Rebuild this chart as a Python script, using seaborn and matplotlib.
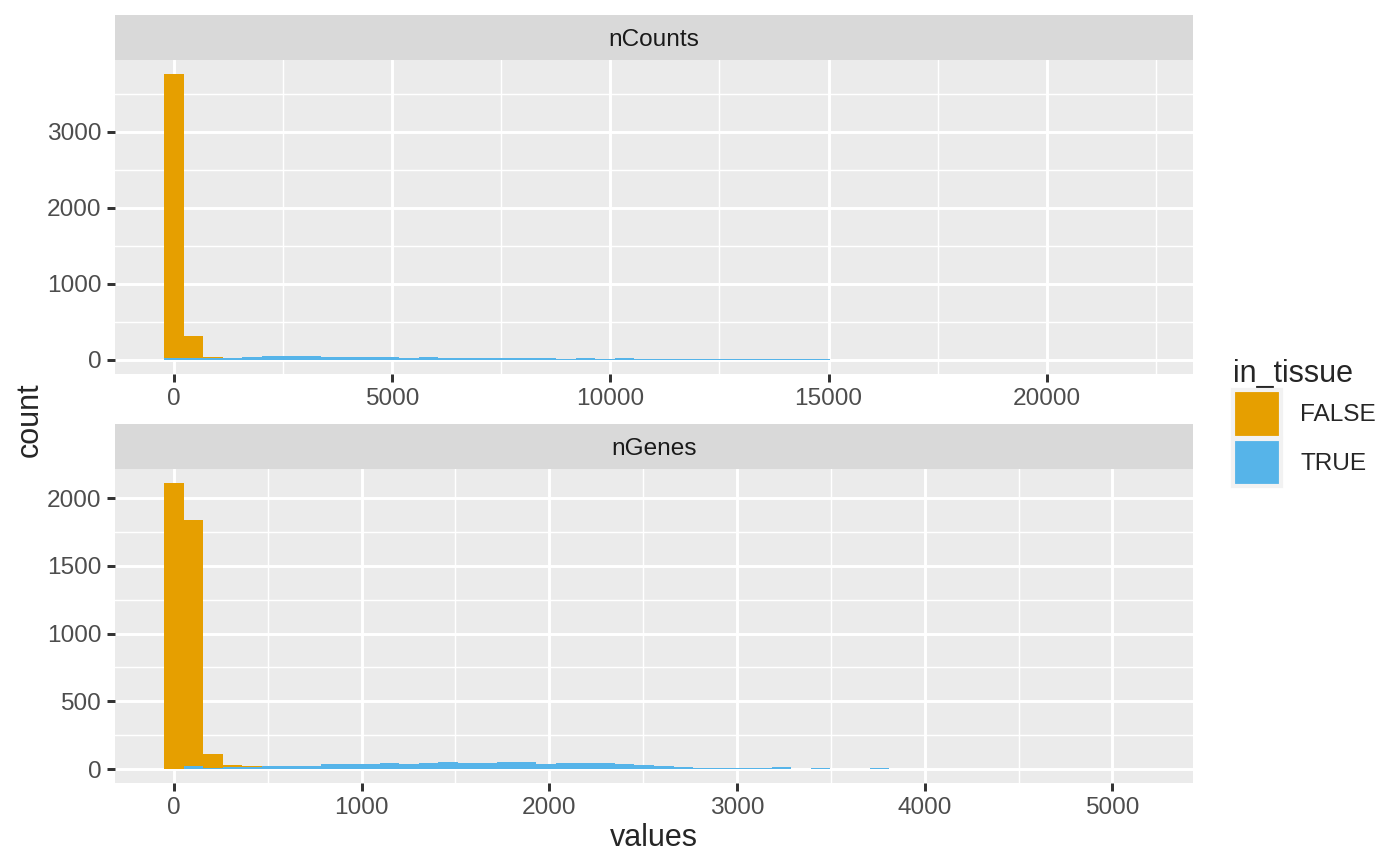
import numpy as np
import pandas as pd
import matplotlib
matplotlib.use("Agg")
import matplotlib.pyplot as plt
from matplotlib.patches import Patch
from matplotlib.ticker import MultipleLocator
import seaborn as sns

# histogram counts (50 bins per facet)
ncounts_binwidth = 449.0
ngenes_binwidth = 104.4

ncounts_false = [3733, 286, 13, 0, 0, 0, 0, 0, 0, 0,
                 0, 0, 0, 0, 0, 0, 0, 0, 0, 0,
                 0, 0, 0, 0, 0, 0, 0, 0, 0, 0,
                 0, 0, 0, 0, 0, 0, 0, 0, 0, 0,
                 0, 0, 0, 0, 0, 0, 0, 0, 0, 0]
ncounts_true = [30, 30, 30, 22, 40, 57, 57, 57, 42, 42,
                42, 40, 26, 40, 26, 26, 26, 26, 26, 26,
                13, 26, 13, 26, 11, 11, 11, 11, 11, 11,
                11, 11, 11, 11, 0, 0, 0, 0, 0, 0,
                0, 0, 0, 0, 0, 0, 0, 0, 0, 1]

ngenes_false = [2111, 1816, 102, 15, 7, 0, 0, 0, 0, 0,
                0, 0, 0, 0, 0, 0, 0, 0, 0, 0,
                0, 0, 0, 0, 0, 0, 0, 0, 0, 0,
                0, 0, 0, 0, 0, 0, 0, 0, 0, 0,
                0, 0, 0, 0, 0, 0, 0, 0, 0, 0]
ngenes_true = [0, 20, 8, 13, 13, 20, 20, 20, 37, 37,
               37, 47, 37, 44, 52, 44, 44, 52, 52, 37,
               44, 44, 44, 37, 27, 20, 13, 5, 5, 5,
               5, 13, 0, 5, 0, 0, 5, 0, 0, 0,
               0, 0, 0, 0, 0, 0, 0, 0, 0, 1]

groups = ["FALSE", "TRUE"]
colors = {"FALSE": "#E69F00", "TRUE": "#56B4E9"}

facets = [
    ("nCounts", ncounts_binwidth, ncounts_false, ncounts_true, 5000, 2500, 1000, 500),
    ("nGenes", ngenes_binwidth, ngenes_false, ngenes_true, 1000, 500, 500, 250),
]

sns.set_style("darkgrid", {"axes.facecolor": "#EBEBEB", "grid.color": "white"})
plt.rcParams["font.family"] = ["Liberation Sans", "DejaVu Sans"]

fig = plt.figure(figsize=(7, 4.33), dpi=200)
W, H = 1400, 866

# panel boxes in pixels: (top of strip, top of panel, bottom of panel)
boxes = [(15, 59.7, 374.3), (424, 468.7, 783.3)]
left, right = 115, 1193

for (name, bw, fvals, tvals, xmaj, xmin_, ymaj, ymin_), (st, pt, pb) in zip(facets, boxes):
    ax = fig.add_axes([left / W, 1 - pb / H, (right - left) / W, (pb - pt) / H])
    n = len(fvals)
    centers = np.arange(n) * bw
    lo, hi = -0.5 * bw, (n - 0.5) * bw
    df = pd.DataFrame({
        "values": np.concatenate([centers, centers]),
        "count": fvals + tvals,
        "in_tissue": ["FALSE"] * n + ["TRUE"] * n,
    })
    sns.histplot(data=df, x="values", weights="count", hue="in_tissue",
                 hue_order=groups, palette=colors, multiple="stack",
                 binwidth=bw, binrange=(lo, hi), alpha=1, linewidth=0,
                 legend=False, ax=ax)

    pad = 0.05 * (hi - lo)
    ax.set_xlim(lo - pad, hi + pad)
    top = max(np.array(fvals) + np.array(tvals))
    ax.set_ylim(-0.05 * top, top * 1.05)

    ax.xaxis.set_major_locator(MultipleLocator(xmaj))
    ax.xaxis.set_minor_locator(MultipleLocator(xmin_))
    ax.yaxis.set_major_locator(MultipleLocator(ymaj))
    ax.yaxis.set_minor_locator(MultipleLocator(ymin_))
    ax.grid(which="major", color="white", linewidth=1.07)
    ax.grid(which="minor", color="white", linewidth=0.53)
    ax.set_axisbelow(True)
    for s in ax.spines.values():
        s.set_visible(False)
    ax.tick_params(which="major", length=2.75, width=1.07, color="#333333",
                   labelsize=8.8, labelcolor="#4D4D4D", pad=2.2,
                   bottom=True, left=True)
    ax.tick_params(which="minor", length=0)
    ax.set_xlabel("")
    ax.set_ylabel("")

    # facet strip
    sax = fig.add_axes([left / W, 1 - pt / H, (right - left) / W, (pt - st) / H])
    sax.set_facecolor("#D9D9D9")
    sax.set_xticks([])
    sax.set_yticks([])
    sax.grid(False)
    for s in sax.spines.values():
        s.set_visible(False)
    sax.text(0.5, 0.45, name, ha="center", va="center", fontsize=8.8,
             color="#1A1A1A", transform=sax.transAxes)

fig.text(30 / W, 1 - 420 / H, "count", rotation=90, ha="center", va="center", fontsize=11)
fig.text(654 / W, 1 - 838 / H, "values", ha="center", va="center", fontsize=11)

handles = [Patch(facecolor=colors[g], edgecolor="#F2F2F2", linewidth=1.5) for g in groups]
fig.legend(handles, groups, title="in_tissue", loc="upper left",
           bbox_to_anchor=(1211 / W, 1 - 337 / H), frameon=False,
           fontsize=8.8, title_fontsize=11, handlelength=1.95, handleheight=2.6,
           labelspacing=0.05, handletextpad=0.8, alignment="left")

fig.savefig("out.png", dpi=200)
